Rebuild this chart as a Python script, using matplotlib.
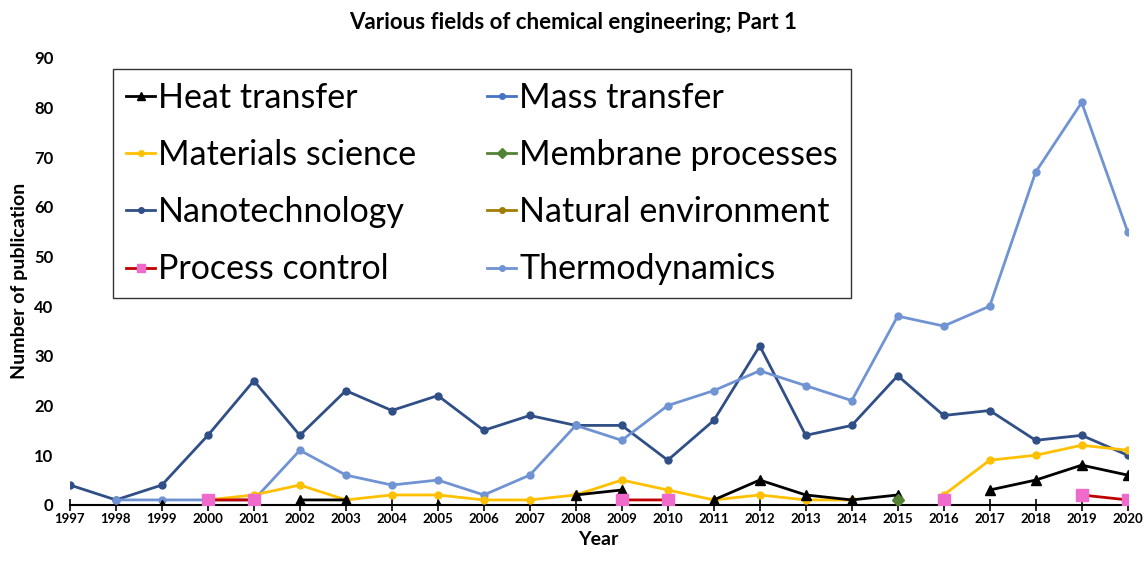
import numpy as np
import matplotlib
matplotlib.use("Agg")
import matplotlib.pyplot as plt

plt.rcParams['font.family'] = ['Lato', 'DejaVu Sans']

nan = np.nan
years = list(range(1997, 2021))

heat_transfer = [nan, nan, 0, nan, nan, 1, 1, nan, 0, nan, nan, 2, 3, nan, 1, 5, 2, 1, 2, nan, 3, 5, 8, 6]
mass_transfer = [nan] * 24
materials_science = [nan, nan, nan, 1, 2, 4, 1, 2, 2, 1, 1, 2, 5, 3, 1, 2, 1, 1, nan, 2, 9, 10, 12, 11]
membrane_processes = [nan] * 18 + [1] + [nan] * 5
nanotechnology = [4, 1, 4, 14, 25, 14, 23, 19, 22, 15, 18, 16, 16, 9, 17, 32, 14, 16, 26, 18, 19, 13, 14, 10]
natural_environment = [nan] * 24
process_control = [nan, nan, nan, 1, 1, nan, nan, nan, nan, nan, nan, nan, 1, 1, nan, nan, nan, nan, nan, 1, nan, nan, 2, 1]
thermodynamics = [nan, 1, 1, 1, 1, 11, 6, 4, 5, 2, 6, 16, 13, 20, 23, 27, 24, 21, 38, 36, 40, 67, 81, 55]

fig = plt.figure(figsize=(11.46, 5.61), dpi=100)
ax = fig.add_axes([0.061, 0.1, 0.923, 0.797])

h = {}
h['Heat transfer'], = ax.plot(years, heat_transfer, color='black', lw=2, marker='^', ms=7, zorder=5)
h['Mass transfer'], = ax.plot(years, mass_transfer, color='#4472C4', lw=2, marker='o', ms=5)
h['Materials science'], = ax.plot(years, materials_science, color='#FFC000', lw=2, marker='o', ms=5, zorder=4)
h['Membrane processes'], = ax.plot(years, membrane_processes, color='#548235', lw=2, marker='D', ms=6, zorder=6)
h['Nanotechnology'], = ax.plot(years, nanotechnology, color='#2F4F86', lw=2, marker='o', ms=5, zorder=3)
h['Natural environment'], = ax.plot(years, natural_environment, color='#9E7D00', lw=2, marker='o', ms=5)
h['Process control'], = ax.plot(years, process_control, color='#C00000', lw=2, marker='s', ms=8,
                                mfc='#EE6ACB', mec='#EE6ACB', zorder=6)
h['Thermodynamics'], = ax.plot(years, thermodynamics, color='#6F93D3', lw=2, marker='o', ms=5, zorder=3)

order = ['Heat transfer', 'Materials science', 'Nanotechnology', 'Process control',
         'Mass transfer', 'Membrane processes', 'Natural environment', 'Thermodynamics']
leg = ax.legend([h[k] for k in order], order, ncol=2, loc='upper left',
                bbox_to_anchor=(0.041, 0.975), borderaxespad=0, fontsize=24.5, frameon=True,
                fancybox=False, edgecolor='black', handlelength=0.85, handletextpad=0.08,
                columnspacing=2.1, labelspacing=0.74, borderpad=0.38, markerscale=0.8)
leg.get_frame().set_linewidth(1.0)

ax.set_xlim(1997, 2020)
ax.set_ylim(0, 90)
ax.set_xticks(years)
ax.set_xticklabels([str(y) for y in years], fontsize=9.5, fontweight='bold')
ax.set_yticks(range(0, 91, 10))
ax.set_yticklabels([str(v) for v in range(0, 91, 10)], fontsize=12, fontweight='bold')
for s in ['top', 'right', 'left']:
    ax.spines[s].set_visible(False)
ax.spines['bottom'].set_linewidth(1.5)
ax.tick_params(axis='x', direction='inout', length=8, width=1.2, pad=2)
ax.tick_params(axis='y', length=0, pad=12)

ax.set_xlabel('Year', fontsize=14, fontweight='bold', labelpad=4)
ax.set_ylabel('Number of publication', fontsize=14, fontweight='bold', labelpad=4)
fig.text(0.5, 0.96, 'Various fields of chemical engineering; Part 1', fontsize=16,
         fontweight='bold', ha='center', va='center')

fig.savefig('out.png', dpi=100)
